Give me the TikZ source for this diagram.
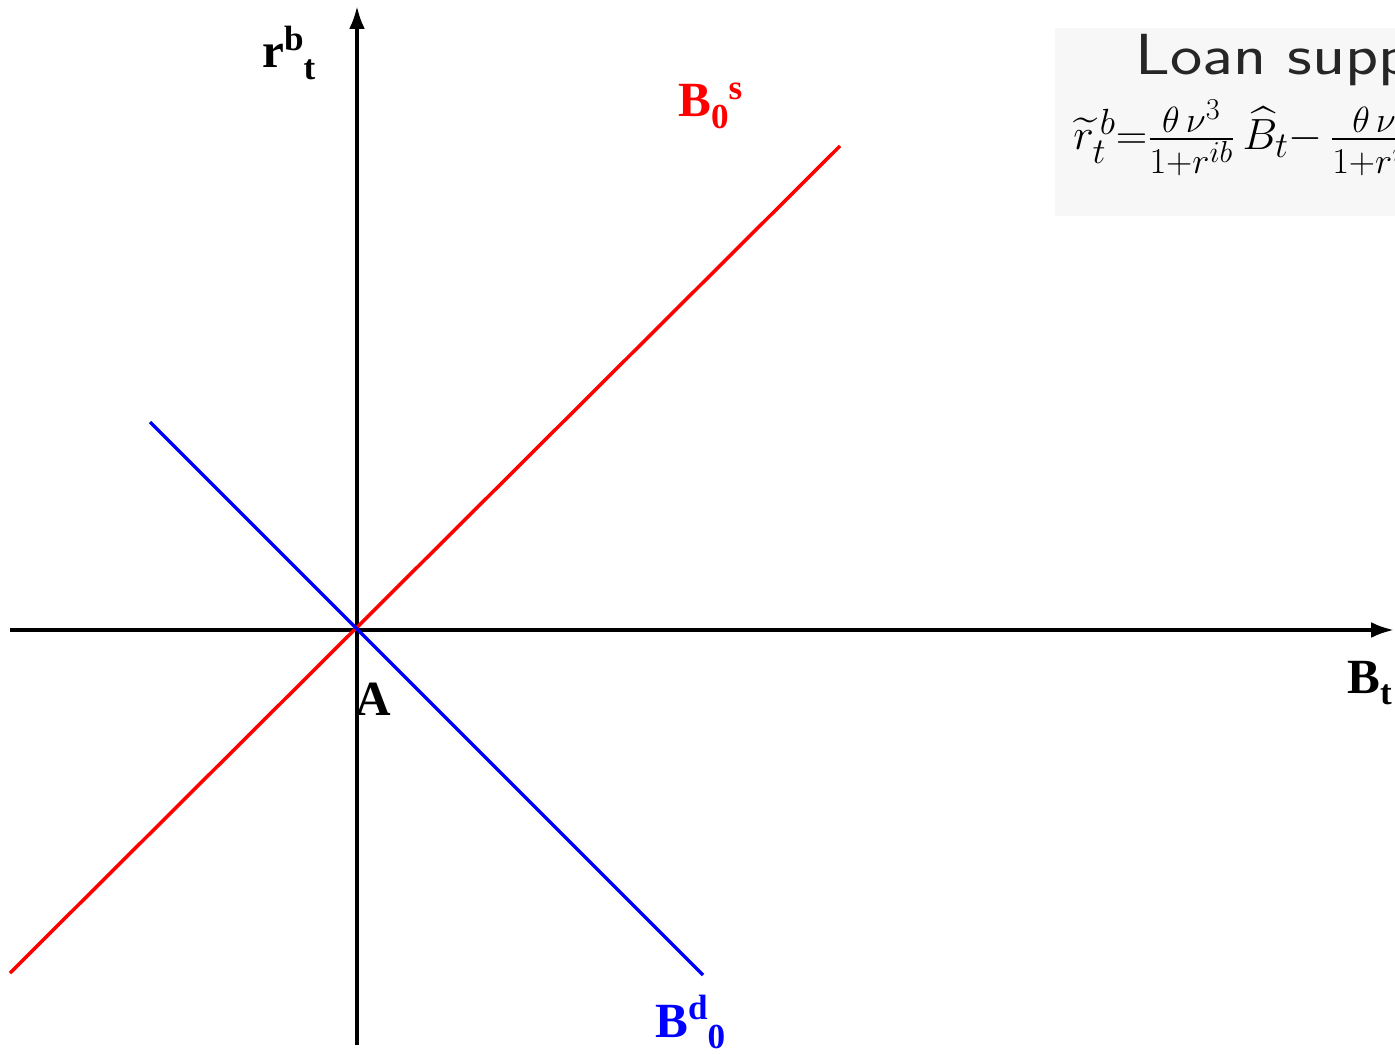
\documentclass[tikz,border=0pt]{standalone}
\usepackage[no-math]{fontspec}
\setmainfont{Liberation Serif}
\usepackage{amsmath}
\usetikzlibrary{arrows.meta}
\definecolor{supply}{HTML}{FF0000}
\definecolor{demand}{HTML}{0000FF}
\definecolor{panel}{HTML}{F7F7F7}
\newcommand\upidx[1]{\raisebox{10pt}{\fontsize{20}{20}\selectfont #1}}
\newcommand\lowidx[1]{\raisebox{-6.5pt}{\fontsize{20}{20}\selectfont #1}}

\begin{document}
\begin{tikzpicture}[x=0.02cm,y=-0.02cm,
  axis/.style={line width=2.1pt,-{Latex[length=13pt,width=9pt]}},
  curve/.style={line width=2pt},
  lbl/.style={font=\fontsize{28}{30}\selectfont\bfseries,inner sep=0pt,anchor=base west}]
\clip (0,0) rectangle (1395,1054);
% Formula panel (cut off at the right)
\fill[panel] (1055,28) rectangle (1400,216);
\node[anchor=base west,inner sep=0pt,text=black!85,font=\sffamily\fontsize{33}{36}\selectfont] (title) at (1135,75) {\scalebox{1.18}[1]{Loan supply}};
\node[anchor=base west,inner sep=0pt,font=\fontsize{32}{34}\selectfont] (formula) at (1073,150) {$\widetilde{r}_t^{\,b}{=}\frac{\theta\,\nu^3}{1+r^{ib}}\,\widehat{B}_t{-}\,\frac{\theta\,\nu}{1+r^{ib}}$};
% Axes
\coordinate (A0) at (357,630);
\coordinate (ybot) at (357,1045);
\coordinate (ytop) at (357,6);
\coordinate (xleft) at (10,630);
\coordinate (xright) at (1394,630);
\draw[axis] (ybot) -- (ytop);
\draw[axis] (xleft) -- (xright);
% Supply and demand lines
\coordinate (s1) at (10,973);
\coordinate (s2) at (840,146);
\coordinate (d1) at (150,422);
\coordinate (d2) at (703,975);
\draw[curve,supply] (s1) -- (s2);
\draw[curve,demand] (d1) -- (d2);
% Labels
\node[lbl] (rate) at (262,68) {r\upidx{b}\lowidx{t}};
\node[lbl] (qty) at (1347,693) {B\lowidx{t}};
\node[lbl] (pointA) at (355,715) {A};
\node[lbl,text=supply] (supplbl) at (678,117) {B\lowidx{0}\upidx{s}};
\node[lbl,text=demand] (demlbl) at (655,1037) {B\upidx{d}\lowidx{0}};
\end{tikzpicture}
\end{document}
